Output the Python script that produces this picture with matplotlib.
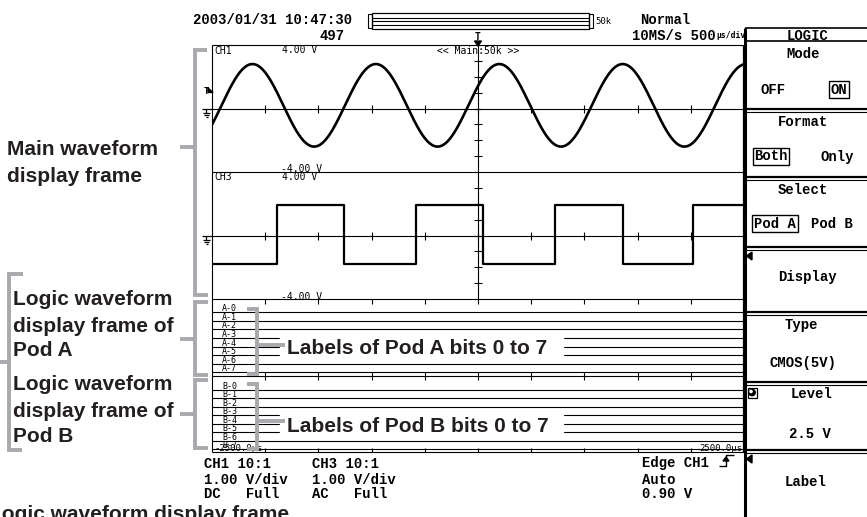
import numpy as np
import matplotlib.pyplot as plt
from matplotlib.patches import Rectangle, Polygon, Circle

# ---- values ----
t_span = (-2500, 2500)       # us  (500 us/div, 10 div)
v_span = (-4.0, 4.0)         # V   (1 V/div, 8 div)

# CH1: sine
ch1_amp = 2.6
ch1_offset = 0.2
ch1_period = 1160            # us
ch1_rise_zero = -90          # us, a rising zero crossing

# CH3: square wave, first edge is rising
ch3_edges = [-1889, -1259, -583, 47, 724, 1363, 2021]
ch3_high = 1.94
ch3_low = -1.77

pod_a_labels = ['A-0', 'A-1', 'A-2', 'A-3', 'A-4', 'A-5', 'A-6', 'A-7']
pod_b_labels = ['B-0', 'B-1', 'B-2', 'B-3', 'B-4', 'B-5', 'B-6', 'B-7']

W, H = 867, 517
MONO = 'Liberation Mono'
SMALL = 'DejaVu Sans Mono'
SANS = 'Liberation Sans'
GRAY = '#a7a9ac'
INK = '#231f20'

# screen geometry (pixels)
X0, X1 = 212, 744
Y_TOP, Y_MID, Y_LOG, Y_AB, Y_BOT = 45, 172, 299, 376, 452
XC = (X0 + X1) / 2
div_x = [X0 + k * (X1 - X0) / 10 for k in range(1, 10)]

fig = plt.figure(figsize=(W / 100, H / 100), dpi=100)
ax = fig.add_axes([0, 0, 1, 1])
ax.set_xlim(0, W)
ax.set_ylim(H, 0)
ax.axis('off')


def frac(x0, y0, x1, y1):
    return [x0 / W, 1 - y1 / H, (x1 - x0) / W, (y1 - y0) / H]


def line(xs, ys, lw=0.8, color='black', z=2):
    ax.plot(xs, ys, color=color, lw=lw, zorder=z, solid_capstyle='butt')


def txt(x, y, s, size=10, font=MONO, ha='left', va='center_baseline', weight='bold', **kw):
    ax.text(x, y, s, fontsize=size, family=font, ha=ha, va=va, weight=weight, **kw)


# ---- screen frame and grid ----
line([X0, X0], [Y_TOP, Y_BOT])
line([X0, X1], [Y_TOP, Y_TOP])
for y in (Y_MID, Y_LOG, Y_AB, Y_BOT):
    line([X0, X1], [y, y])
line([XC, XC], [Y_TOP, Y_LOG])
for y0 in (Y_TOP, Y_MID):
    yc = (y0 + y0 + 127) / 2
    line([X0, X1], [yc, yc])
    for x in div_x:
        line([x, x], [yc - 4, yc + 4])
    for k in range(1, 8):
        yy = y0 + k * 127 / 8
        line([XC - 4, XC + 4], [yy, yy])
for x in div_x:
    line([x, x], [Y_LOG, Y_LOG + 5])
    line([x, x], [Y_AB - 4, Y_AB + 4])
    line([x, x], [Y_BOT - 4, Y_BOT])

# logic bit lines + labels
for i, lab in enumerate(pod_a_labels):
    y = 312.3 + i * 8.57
    line([X0, X1], [y, y])
    txt(222, y - 1, lab, size=6, font=SMALL, weight='normal', va='baseline')
for i, lab in enumerate(pod_b_labels):
    y = 389.7 + i * 8.47
    line([X0, X1], [y, y])
    txt(222, y - 1, lab, size=6, font=SMALL, weight='normal', va='baseline')

# ---- waveforms ----
t = np.linspace(t_span[0], t_span[1], 2000)
ch1 = ch1_offset + ch1_amp * np.sin(2 * np.pi * (t - ch1_rise_zero) / ch1_period)
a1 = fig.add_axes(frac(X0, Y_TOP, X1, Y_MID))
a1.plot(t, ch1, color='black', lw=1.9)
a3 = fig.add_axes(frac(X0, Y_MID, X1, Y_LOG))
times = [t_span[0]] + ch3_edges + [t_span[1]]
levels = [ch3_low if i % 2 == 0 else ch3_high for i in range(len(ch3_edges) + 1)]
a3.step(times, levels + [levels[-1]], where='post', color='black', lw=1.6)
for a in (a1, a3):
    a.set_xlim(*t_span)
    a.set_ylim(*v_span)
    a.axis('off')
    a.patch.set_alpha(0)

# ---- small screen texts ----
for y0, name in ((Y_TOP, 'CH1'), (Y_MID, 'CH3')):
    txt(214, y0 + 4.5, name, size=7, font=SMALL, weight='normal')
    txt(282, y0 + 4, '4.00 V', size=7, font=SMALL, weight='normal')
    txt(281, y0 + 123.5, '-4.00 V', size=7, font=SMALL, weight='normal')
txt(XC, 49.5, '<< Main:50k >>', size=7, font=SMALL, weight='normal', ha='center')
txt(214, 447.5, '-2500.0\u00b5s', size=6.5, font=SMALL, weight='normal')
txt(742, 447.5, '2500.0\u00b5s', size=6.5, font=SMALL, weight='normal', ha='right')


def gnd(y):
    line([202, X0], [y, y], lw=0.9)
    line([206, 206], [y, y + 4], lw=0.9)
    line([203, 210], [y + 4, y + 4], lw=0.9)
    line([204, 209], [y + 6, y + 6], lw=0.9)
    line([205.5, 207.5], [y + 8, y + 8], lw=0.9)


gnd(Y_TOP + 63.5)
gnd(Y_MID + 63.5)
txt(204, 90, 'T', size=6.5, font=SMALL, weight='bold')
ax.add_patch(Polygon([(208, 88), (213, 92.5), (208, 92.5)], closed=True, color='black'))

# ---- header ----
txt(193, 19, '2003/01/31 10:47:30')
txt(345, 35, '497', ha='right')
ax.add_patch(Rectangle((368, 14), 3.5, 14, fill=False, lw=0.8))
ax.add_patch(Rectangle((371.5, 13), 217.5, 16, fill=False, lw=0.9))
for y in (17.5, 21, 24.5):
    line([371.5, 589], [y, y], lw=0.8)
ax.add_patch(Rectangle((589, 14), 3.5, 14, fill=False, lw=0.8))
txt(595, 21, '50k', size=6.5, font=SMALL, weight='normal')
txt(640, 19, 'Normal')
txt(632, 35, '10MS/s 500')
txt(716, 35, '\u00b5s/div', size=5.8, font=SMALL, weight='bold')
txt(XC, 36, 'T', size=7, font=SMALL, weight='bold', ha='center')
ax.add_patch(Polygon([(474.5, 41), (481.5, 41), (478, 46)], closed=True, color='black'))

# ---- bottom info ----
for x, rows in ((204, ['CH1 10:1', '1.00 V/div', 'DC   Full']),
                (312, ['CH3 10:1', '1.00 V/div', 'AC   Full']),
                (642, ['Edge CH1', 'Auto', '0.90 V'])):
    for y, s in zip((462, 478, 493), rows):
        txt(x, y, s)
line([719, 726, 726, 734], [466, 466, 455, 455], lw=1)
ax.add_patch(Polygon([(723, 461), (729, 461), (726, 457)], closed=True, color='black'))

# ---- right soft-key panel ----
PX0 = 745
line([PX0, PX0], [28, H], lw=2.2)
line([X1, X1], [Y_TOP, Y_BOT], lw=1.6)
line([PX0, W], [28, 28], lw=1.2)
line([PX0, W], [41, 41], lw=1.2)
for y in (110, 178, 248, 313, 383, 451):
    line([PX0, W], [y - 1.5, y - 1.5], lw=1.6)
    line([PX0, W], [y + 2, y + 2], lw=0.8)
for y in (252, 455):
    ax.add_patch(Polygon([(752, y), (752, y + 8), (746.5, y + 4)], closed=True, color='black'))

box = dict(boxstyle='square,pad=0.12', fc='none', ec='black', lw=1)
panel = [(808, 35, 'LOGIC', None), (803, 53, 'Mode', None),
         (773, 88, 'OFF', None), (839, 88, 'ON', box),
         (803, 120, 'Format', None), (771, 155, 'Both', box), (837, 155, 'Only', None),
         (803, 189, 'Select', None), (775, 222, 'Pod A', box), (832, 222, 'Pod B', None),
         (807, 275, 'Display', None), (801, 324, 'Type', None), (803, 361, 'CMOS(5V)', None),
         (812, 393, 'Level', None), (810, 433, '2.5 V', None), (806, 481, 'Label', None)]
for x, y, s, b in panel:
    txt(x, y, s, ha='center', bbox=b)
ax.add_patch(Rectangle((747.5, 387.5), 9, 10, fill=False, lw=0.9))
ax.add_patch(Circle((752, 392.5), 3.2, color='black'))
ax.add_patch(Circle((751, 391.5), 1.1, color='white'))

# ---- callouts ----
ax.add_patch(Rectangle((280, 334), 283, 25, color='white', zorder=3))
ax.add_patch(Rectangle((280, 411), 283, 25, color='white', zorder=3))


def bracket(pts, z=4):
    xs, ys = zip(*pts)
    ax.plot(xs, ys, color=GRAY, lw=2.8, zorder=z, solid_capstyle='butt', solid_joinstyle='miter')


bracket([(207, 50), (194.5, 50), (194.5, 295), (208, 295)])
bracket([(180, 147), (194.5, 147)])
bracket([(208, 302), (194.5, 302), (194.5, 375), (208, 375)])
bracket([(180, 338.5), (194.5, 338.5)])
bracket([(208, 380), (194.5, 380), (194.5, 448), (208, 448)])
bracket([(180, 414), (194.5, 414)])
bracket([(23, 274), (9, 274), (9, 450), (22, 450)])
bracket([(0, 362), (9, 362)])
bracket([(247, 309), (257, 309), (257, 374), (247, 374)])
bracket([(257, 345), (285, 345)])
bracket([(247, 384), (257, 384), (257, 449), (247, 449)])
bracket([(257, 421), (285, 421)])

call = dict(size=15, font=SANS, va='baseline', color=INK, zorder=5)
txt(7, 155, 'Main waveform', **call)
txt(7, 181.5, 'display frame', **call)
txt(13, 305, 'Logic waveform', **call)
txt(13, 331.5, 'display frame of', **call)
txt(13, 356, 'Pod A', **call)
txt(13, 390.5, 'Logic waveform', **call)
txt(13, 417, 'display frame of', **call)
txt(13, 441.5, 'Pod B', **call)
txt(287, 354, 'Labels of Pod A bits 0 to 7', **call)
txt(287, 432, 'Labels of Pod B bits 0 to 7', **call)
txt(-11, 520, 'Logic waveform display frame', **call)

fig.savefig('out.png', dpi=100)
